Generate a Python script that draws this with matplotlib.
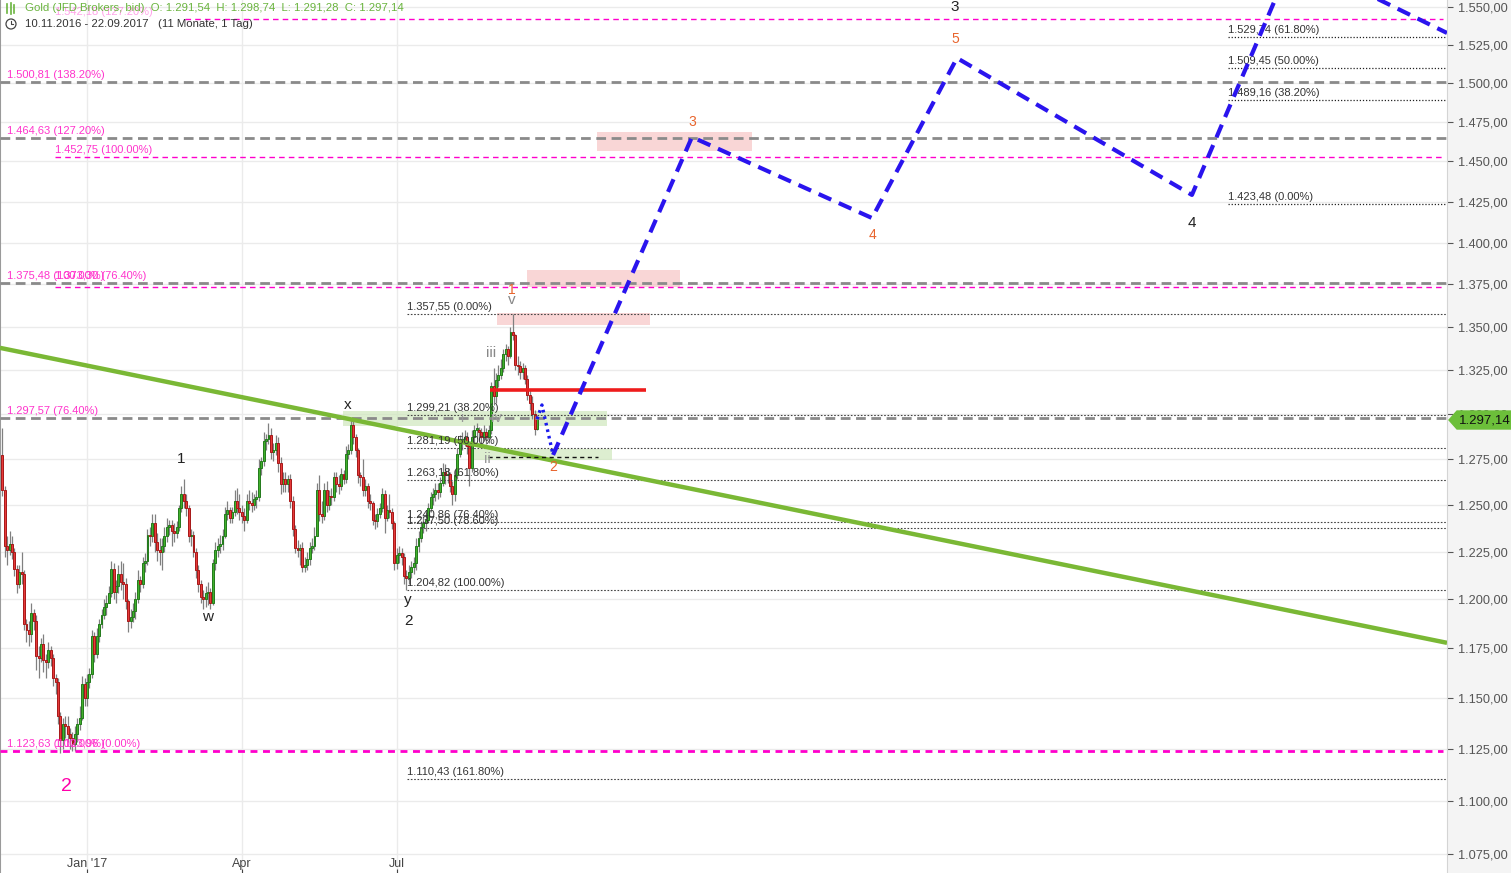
import matplotlib
matplotlib.use("Agg")
import numpy as np
import matplotlib.pyplot as plt
from matplotlib.patches import Rectangle, Polygon, Circle
from matplotlib.lines import Line2D
from matplotlib.ticker import FixedLocator, FuncFormatter, NullLocator

plt.rcParams['font.family'] = ['Liberation Sans', 'DejaVu Sans']

W, H = 1511, 873

# daily candles, Gold (JFD) 10.11.2016 - 22.09.2017
first_open = 1277
closes = [1258, 1228, 1226, 1229, 1225, 1216, 1208, 1214, 1213, 1187,
          1184, 1182, 1193, 1189, 1171, 1170, 1177, 1169, 1168, 1174,
          1170, 1160, 1158, 1141, 1129, 1137, 1136, 1132, 1130, 1127,
          1132, 1137, 1140, 1157, 1150, 1158, 1162, 1181, 1172, 1181,
          1187, 1192, 1196, 1198, 1203, 1216, 1204, 1207, 1213, 1209,
          1208, 1199, 1189, 1191, 1194, 1200, 1210, 1208, 1219, 1220,
          1234, 1233, 1240, 1230, 1226, 1225, 1228, 1233, 1238, 1239,
          1236, 1235, 1238, 1248, 1256, 1252, 1248, 1233, 1234, 1225,
          1215, 1208, 1201, 1200, 1203, 1204, 1198, 1219, 1226, 1228,
          1229, 1233, 1245, 1247, 1243, 1246, 1252, 1248, 1246, 1244,
          1242, 1252, 1251, 1250, 1253, 1254, 1270, 1274, 1285, 1286,
          1288, 1279, 1280, 1284, 1273, 1261, 1264, 1261, 1264, 1252,
          1237, 1227, 1226, 1227, 1217, 1218, 1221, 1227, 1228, 1233,
          1258, 1245, 1244, 1258, 1250, 1255, 1254, 1265, 1261, 1260,
          1267, 1264, 1278, 1280, 1294, 1287, 1280, 1266, 1265, 1258,
          1260, 1252, 1251, 1242, 1241, 1245, 1248, 1256, 1243, 1247,
          1246, 1240, 1219, 1223, 1224, 1222, 1212, 1211, 1214, 1217,
          1219, 1228, 1232, 1238, 1240, 1242, 1248, 1254, 1256, 1258,
          1257, 1262, 1268, 1266, 1267, 1260, 1256, 1266, 1278, 1284,
          1286, 1287, 1282, 1270, 1287, 1291, 1291, 1290, 1287, 1290,
          1287, 1291, 1316, 1310, 1319, 1322, 1326, 1334, 1337, 1333,
          1347, 1345, 1328, 1327, 1324, 1326, 1320, 1311, 1306, 1300,
          1291.54, 1297.14]
highs = [1292, 1260, 1233, 1236, 1233, 1227, 1218, 1218, 1225, 1215,
         1190, 1189, 1198, 1195, 1192, 1176, 1180, 1182, 1172, 1178,
         1176, 1172, 1162, 1160, 1143, 1140, 1141, 1141, 1135, 1133,
         1136, 1140, 1146, 1161, 1160, 1162, 1165, 1184, 1183, 1185,
         1190, 1195, 1200, 1202, 1207, 1220, 1219, 1210, 1218, 1220,
         1219, 1211, 1200, 1195, 1198, 1204, 1215, 1212, 1222, 1224,
         1237, 1238, 1245, 1245, 1235, 1232, 1232, 1238, 1243, 1242,
         1242, 1240, 1241, 1250, 1260, 1264, 1256, 1250, 1237, 1236,
         1227, 1218, 1210, 1205, 1207, 1209, 1206, 1221, 1230, 1232,
         1234, 1237, 1249, 1252, 1249, 1249, 1258, 1259, 1256, 1250,
         1248, 1256, 1258, 1257, 1256, 1258, 1275, 1276, 1290, 1289,
         1295, 1292, 1284, 1288, 1287, 1276, 1268, 1268, 1266, 1267,
         1255, 1239, 1231, 1229, 1230, 1222, 1225, 1230, 1232, 1238,
         1262, 1266, 1252, 1262, 1263, 1258, 1259, 1268, 1268, 1266,
         1270, 1269, 1282, 1283, 1297, 1296, 1289, 1281, 1268, 1275,
         1264, 1262, 1256, 1252, 1245, 1248, 1251, 1259, 1258, 1250,
         1256, 1248, 1241, 1227, 1228, 1227, 1224, 1215, 1218, 1220,
         1222, 1232, 1236, 1241, 1244, 1246, 1251, 1257, 1259, 1262,
         1262, 1265, 1273, 1272, 1270, 1268, 1263, 1269, 1281, 1288,
         1290, 1291, 1290, 1284, 1291, 1294, 1295, 1293, 1292, 1294,
         1292, 1294, 1318, 1326, 1323, 1328, 1331, 1337, 1340, 1339,
         1350, 1357.55, 1346, 1333, 1330, 1329, 1328, 1322, 1314, 1310,
         1302, 1298.74]
lows = [1255, 1222, 1218, 1223, 1221, 1212, 1203, 1206, 1208, 1184,
        1178, 1176, 1178, 1184, 1164, 1160, 1168, 1163, 1160, 1165,
        1166, 1156, 1152, 1137, 1123, 1125, 1130, 1128, 1125, 1124,
        1124, 1128, 1134, 1139, 1146, 1146, 1155, 1160, 1168, 1170,
        1178, 1185, 1190, 1192, 1198, 1201, 1200, 1198, 1203, 1205,
        1200, 1195, 1183, 1185, 1188, 1190, 1198, 1204, 1206, 1214,
        1218, 1228, 1230, 1225, 1220, 1218, 1215, 1225, 1230, 1234,
        1228, 1230, 1232, 1236, 1246, 1248, 1244, 1230, 1228, 1222,
        1211, 1204, 1198, 1195, 1196, 1197, 1195, 1197, 1215, 1222,
        1224, 1226, 1232, 1242, 1240, 1240, 1244, 1245, 1242, 1240,
        1236, 1240, 1247, 1246, 1247, 1248, 1252, 1266, 1271, 1280,
        1283, 1275, 1274, 1277, 1268, 1256, 1257, 1257, 1257, 1248,
        1233, 1224, 1222, 1218, 1214, 1214, 1215, 1218, 1224, 1226,
        1233, 1241, 1240, 1242, 1246, 1247, 1250, 1252, 1257, 1256,
        1258, 1261, 1262, 1275, 1278, 1283, 1276, 1262, 1260, 1255,
        1255, 1248, 1247, 1239, 1237, 1238, 1243, 1246, 1235, 1241,
        1243, 1237, 1215, 1216, 1219, 1218, 1208, 1204.82, 1208, 1211,
        1213, 1215, 1225, 1230, 1235, 1236, 1240, 1246, 1250, 1252,
        1253, 1254, 1260, 1261, 1262, 1257, 1250, 1252, 1264, 1276,
        1280, 1282, 1278, 1260, 1268, 1284, 1287, 1286, 1283, 1285,
        1283, 1284, 1289, 1305, 1306, 1315, 1320, 1324, 1330, 1328,
        1332, 1342, 1325, 1322, 1320, 1320, 1317, 1308, 1302, 1297,
        1288, 1291.28]

month_pos = [35, 99, 163]
month_labels = ["Jan '17", "Apr", "Jul"]
y_ticks = [1075, 1100, 1125, 1150, 1175, 1200, 1225, 1250, 1275, 1300,
           1325, 1350, 1375, 1400, 1425, 1450, 1475, 1500, 1525, 1550]

# grey dashed fib levels (full width) and magenta levels
grey_levels = [1500.81, 1464.63, 1375.48, 1297.57]
grey_labels = ["1.500,81 (138.20%)", "1.464,63 (127.20%)", "1.375,48 (100.00%)", "1.297,57 (76.40%)"]
pink_levels = [1542.18, 1452.75, 1373.30]
pink_starts = [75.5, 21.8, 21.8]
pink_labels = ["1.542,18 (127.20%)", "1.452,75 (100.00%)", "1.373,30 (76.40%)"]
low_level = 1123.63

# dotted retracement of the Jul-Sep swing
fib_levels = [1357.55, 1299.21, 1281.19, 1263.18, 1240.86, 1237.50, 1204.82, 1110.43]
fib_labels = ["1.357,55 (0.00%)", "1.299,21 (38.20%)", "1.281,19 (50.00%)", "1.263,18 (61.80%)",
              "1.240,86 (76.40%)", "1.237,50 (78.60%)", "1.204,82 (100.00%)", "1.110,43 (161.80%)"]
fib2_levels = [1529.74, 1509.45, 1489.16, 1423.48]
fib2_labels = ["1.529,74 (61.80%)", "1.509,45 (50.00%)", "1.489,16 (38.20%)", "1.423,48 (0.00%)"]

# projected wave path (bar index, price)
wave_x = [227.6, 285.0, 359.4, 394.5, 491.6, 533.4, 597.0]
wave_y = [1277.2, 1465.3, 1414.9, 1516.2, 1429.1, 1583.6, 1532.7]
dot_x = [221, 223, 227.6]
dot_y = [1297.14, 1305.1, 1277.2]
trend_x = [-0.95, 597.0]
trend_y = [1337.7, 1177.6]

pink_boxes = [(245.7, 309.8, 1456.5, 1468.5), (216.8, 280.0, 1373.3, 1383.5), (204.4, 267.6, 1351.0, 1358.0)]
green_boxes = [(140.8, 249.9, 1293.2, 1301.6), (193.3, 251.9, 1274.4, 1280.4)]

def de(v):
    s = f"{v:,.2f}"
    return s.replace(",", "X").replace(".", ",").replace("X", ".")

fig = plt.figure(figsize=(W / 100, H / 100), dpi=100, facecolor="#f4f4f4")
ax = fig.add_axes([0, 0, 1447 / W, 1])
ax.set_facecolor("white")
ax.set_yscale("log")
ax.set_xlim(-0.95, 597.0)
ax.set_ylim(1066.1, 1554.7)

ax.yaxis.set_major_locator(FixedLocator(y_ticks))
ax.yaxis.set_minor_locator(NullLocator())
ax.yaxis.set_major_formatter(FuncFormatter(lambda v, p: de(v)))
ax.yaxis.tick_right()
ax.tick_params(axis="y", colors="#555555", labelsize=9.2, length=4, width=0.8, pad=4)
ax.set_xticks(month_pos)
ax.set_xticklabels([])
ax.tick_params(axis="x", direction="in", length=3, color="#444444")
ax.grid(True, color="#ebebeb", lw=1)
ax.set_axisbelow(True)
for s in ["top", "bottom"]:
    ax.spines[s].set_visible(False)
ax.spines["left"].set_color("#9a9a9a")
ax.spines["left"].set_linewidth(1.5)
ax.spines["right"].set_color("#d4d4d4")

for x, lab in zip(month_pos, month_labels):
    ax.text(x, 0.004, lab, transform=ax.get_xaxis_transform(), ha="center", va="bottom",
            fontsize=9, color="#444444")

# candles
opens = [first_open] + closes[:-1]
xs = np.arange(len(closes))
o = np.array(opens, float)
c = np.array(closes, float)
hi = np.maximum(np.array(highs, float), np.maximum(o, c))
lo = np.minimum(np.array(lows, float), np.minimum(o, c))
up = c >= o
ax.vlines(xs, lo, hi, color="#808080", lw=0.9, zorder=3)
bot = np.minimum(o, c)
hgt = np.maximum(np.abs(c - o), 0.9)
ax.bar(xs[up], hgt[up], bottom=bot[up], width=0.8, color="#42b02c", edgecolor="#237a1c", lw=0.7, zorder=4)
ax.bar(xs[~up], hgt[~up], bottom=bot[~up], width=0.8, color="#e63a3a", edgecolor="#a61818", lw=0.7, zorder=4)

# zones
for x0, x1, p0, p1 in pink_boxes:
    ax.add_patch(Rectangle((x0, p0), x1 - x0, p1 - p0, color="#f5bcbc", alpha=0.6, lw=0, zorder=2))
for x0, x1, p0, p1 in green_boxes:
    ax.add_patch(Rectangle((x0, p0), x1 - x0, p1 - p0, color="#cfe8bd", alpha=0.7, lw=0, zorder=2))

# level lines
for lv, lab in zip(grey_levels, grey_labels):
    ax.hlines(lv, -0.95, 597, color="#8a8a8a", lw=2, linestyles=(0, (3.5, 2)), zorder=5)
    ax.annotate(lab, (1.9, lv), xytext=(0, 1.5), textcoords="offset points",
                fontsize=8, color="#ff33cc", va="bottom", zorder=7)
for lv, x0, lab in zip(pink_levels, pink_starts, pink_labels):
    ax.hlines(lv, x0, 595.3, color="#ff00cc", lw=1, linestyles=(0, (4, 3)), zorder=5)
    ax.annotate(lab, (21.8, lv), xytext=(0, 1.5 if lv != 1373.30 else 4.5), textcoords="offset points",
                fontsize=8, color="#ff33cc", va="bottom", alpha=0.45 if lv > 1540 else 1, zorder=7)
ax.hlines(low_level, -0.95, 595.3, color="#ff00cc", lw=2, linestyles=(0, (2.5, 2)), zorder=5)
ax.annotate("1.123,63 (100.00%)", (1.9, low_level), xytext=(0, 1.5), textcoords="offset points",
            fontsize=8, color="#ff33cc", va="bottom", zorder=7)
ax.annotate("1.123,96 (0.00%)", (21.8, low_level), xytext=(0, 1.5), textcoords="offset points",
            fontsize=8, color="#ff33cc", va="bottom", zorder=7)

for lv, lab in zip(fib_levels, fib_labels):
    ax.hlines(lv, 167.2, 597, color="#444444", lw=0.8, linestyles=(0, (1.5, 1.5)), zorder=5)
    ax.annotate(lab, (167.2, lv), xytext=(0, 1.5), textcoords="offset points",
                fontsize=8, color="#333333", va="bottom", zorder=7)
for lv, lab in zip(fib2_levels, fib2_labels):
    ax.hlines(lv, 506.5, 597, color="#222222", lw=0.9, linestyles=(0, (1, 1.5)), zorder=5)
    ax.annotate(lab, (506.5, lv), xytext=(0, 1.5), textcoords="offset points",
                fontsize=8, color="#333333", va="bottom", zorder=7)

# trendline, red line, short dashed
ax.plot(trend_x, trend_y, color="#7ab835", lw=3.2, zorder=6, solid_capstyle="butt")
ax.hlines(1313.5, 201.5, 266.0, color="#ee1c1c", lw=2.6, zorder=6)
ax.hlines(1276.1, 200.7, 246.2, color="#111111", lw=1, linestyles=(0, (3, 2.5)), zorder=6)

# projected waves
ax.plot(wave_x, wave_y, color="#2a14ee", lw=3, ls=(0, (3.3, 2)), zorder=8)
ax.plot(dot_x, dot_y, color="#1a1aee", lw=2.4, ls=(0, (0.8, 1.2)), zorder=8)

# wave labels
orange = "#e8642c"
for x, y, s, col, fs in [
    (393.7, 1550, "3", "#222222", 11), (491.6, 1411.8, "4", "#222222", 11),
    (285.0, 1474.8, "3", orange, 10), (359.4, 1404.5, "4", orange, 10),
    (393.7, 1528.7, "5", orange, 10), (210.6, 1371.6, "1", orange, 10),
    (227.6, 1270.5, "2", orange, 10), (210.6, 1365.6, "v", "#888888", 11),
    (202.0, 1334.7, "iii", "#888888", 11), (204.4, 1297.8, "iv", "#999999", 11),
    (189.9, 1297.8, "i", "#999999", 10), (200.3, 1274.9, "ii", "#999999", 11),
    (73.8, 1274.9, "1", "#222222", 11), (84.6, 1190.8, "w", "#222222", 11),
    (142.8, 1305.1, "x", "#222222", 11), (167.7, 1199.5, "y", "#222222", 11),
    (167.7, 1188.8, "2", "#222222", 11), (26.7, 1106.5, "2", "#ff00aa", 14),
]:
    ax.text(x, y, s, ha="center", va="center", color=col, fontsize=fs, zorder=9)

# header
def pf(x, y):
    return (x / W, 1 - y / H)

fig.text(*pf(25, 8), "Gold (JFD Brokers, bid)  O: 1.291,54  H: 1.298,74  L: 1.291,28  C: 1.297,14",
         color="#6ab43e", fontsize=8.2, va="center", zorder=10)
fig.text(*pf(25, 24), "10.11.2016 - 22.09.2017   (11 Monate, 1 Tag)", color="#333333",
         fontsize=8.2, va="center", zorder=10)
for dx, y0, y1 in [(7, 4, 13), (10.5, 3, 14), (14, 5, 13)]:
    fig.add_artist(Line2D([dx / W, dx / W], [1 - y0 / H, 1 - y1 / H], color="#6ab43e", lw=1.2, zorder=10))
fig.add_artist(Circle((11 / 100, (H - 24) / 100), 0.05, transform=fig.dpi_scale_trans, fill=False,
                      edgecolor="#444444", lw=0.9, zorder=10))
fig.add_artist(Line2D([11 / W, 11 / W, 13.5 / W], [1 - 21 / H, 1 - 24 / H, 1 - 24 / H],
                      color="#444444", lw=0.8, zorder=10))

# last price tag
tag = [pf(1449, 420), pf(1457, 411), pf(1511, 411), pf(1511, 429), pf(1457, 429)]
fig.add_artist(Polygon(tag, closed=True, transform=fig.transFigure, color="#6cbf3a", zorder=10))
fig.text(*pf(1459, 420), "1.297,14", color="#111111", fontsize=9.5, va="center", zorder=11)

fig.savefig("out.png", dpi=100, facecolor=fig.get_facecolor())
